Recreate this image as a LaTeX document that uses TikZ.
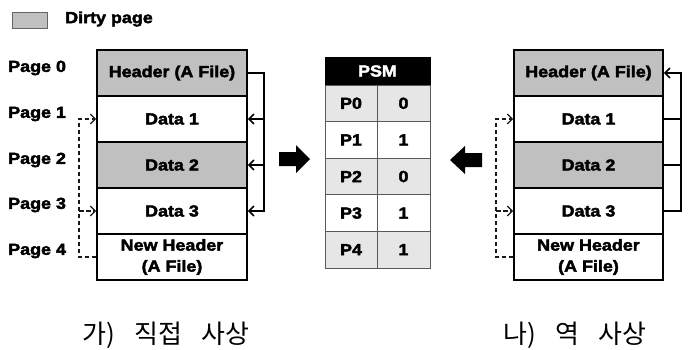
\documentclass[tikz,border=0pt]{standalone}
\usepackage{fontspec}
\setmainfont{Liberation Sans}[FakeStretch=1.12, BoldFeatures={FakeBold=2.5}]
\newfontfamily\krfont{Noto Sans CJK KR}
\usetikzlibrary{arrows.meta}

\definecolor{dirtygray}{RGB}{192,192,192}
\definecolor{psmgray}{RGB}{230,230,230}

\tikzset{
  lbl/.style={font=\bfseries\fontsize{16}{21}\selectfont, inner sep=0pt},
  cell/.style={draw=black, line width=1.6pt, minimum width=150pt, minimum height=46pt,
               inner sep=0pt, align=center, font=\bfseries\fontsize{16}{21}\selectfont},
  dirty/.style={fill=dirtygray},
  psmcell/.style={draw=black!65, line width=0.8pt, minimum height=36.6pt, inner sep=0pt,
                  font=\bfseries\fontsize{16}{18}\selectfont},
  conn/.style={line width=1.6pt, -{Straight Barb[length=5pt,width=10pt,line width=1.6pt]}},
  rail/.style={line width=1.6pt},
  dconn/.style={line width=1.3pt, black!90, dash pattern=on 4.5pt off 2.5pt,
                -{Straight Barb[length=5pt,width=10pt,line width=1.3pt]}},
  caption/.style={font=\krfont\fontsize{26}{28}\selectfont, inner sep=0pt}
}

\begin{document}
\begin{tikzpicture}[x=1pt, y=-1pt]
\useasboundingbox (0,0) rectangle (689,349);

% legend
\node[draw=black!60, line width=1pt, fill=dirtygray, minimum width=35pt, minimum height=16pt, inner sep=0pt]
  (legbox) at (29.5,20) {};
\node[lbl, anchor=west] (legtxt) at (65,19) {Dirty page};

% page labels
\foreach \i/\y in {0/68,1/114,2/160,3/205,4/251}
  \node[lbl, anchor=west] (pg\i) at (8,\y) {Page \i};

% left file layout
\node[cell, dirty] (L0) at (172,73)  {Header (A File)};
\node[cell]        (L1) at (172,119) {Data 1};
\node[cell, dirty] (L2) at (172,165) {Data 2};
\node[cell]        (L3) at (172,211) {Data 3};
\node[cell]        (L4) at (172,257) {New Header\\(A File)};

% header pointers (direct mapping)
\coordinate (lrail) at (264,211);
\draw[conn] (L0.east) -| (lrail) -- (L3.east);
\draw[conn] (L1.east -| lrail) -- (L1.east);
\draw[conn] (L2.east -| lrail) -- (L2.east);

% new header pointers
\coordinate (ldash) at (79,119);
\draw[dconn] (L4.west) -| (ldash) -- (L1.west);
\draw[dconn] (L3.west -| ldash) -- (L3.west);

% PSM table
\node[fill=black, draw=black, line width=0.8pt, minimum width=105pt, minimum height=28pt, inner sep=0pt,
      text=white, font=\bfseries\fontsize{16}{18}\selectfont] (psm) at (377.5,71) {PSM};
\foreach \i/\v/\f in {0/0/psmgray,1/1/white,2/0/psmgray,3/1/white,4/1/psmgray}{
  \node[psmcell, fill=\f, minimum width=52pt] (pk\i) at (351,{85+36.6*(\i+0.5)}) {P\i};
  \node[psmcell, fill=\f, minimum width=53pt] (pv\i) at (403.5,{85+36.6*(\i+0.5)}) {\v};
}

% block arrows
\fill (279,152) -- (296,152) -- (296,145) -- (310,159) -- (296,173) -- (296,166) -- (279,166) -- cycle;
\fill (482,153) -- (465,153) -- (465,146) -- (450,160) -- (465,174) -- (465,167) -- (482,167) -- cycle;

% right file layout
\node[cell, dirty, minimum width=149pt] (R0) at (588.5,73)  {Header (A File)};
\node[cell, minimum width=149pt]        (R1) at (588.5,119) {Data 1};
\node[cell, dirty, minimum width=149pt] (R2) at (588.5,165) {Data 2};
\node[cell, minimum width=149pt]        (R3) at (588.5,211) {Data 3};
\node[cell, minimum width=149pt]        (R4) at (588.5,257) {New Header\\(A File)};

% data pages pointing back to the header (inverse mapping)
\coordinate (rrail) at (681,73);
\draw[conn] (R3.east) -| (rrail) -- (R0.east);
\draw[rail] (R1.east) -- (R1.east -| rrail);
\draw[rail] (R2.east) -- (R2.east -| rrail);

\coordinate (rdash) at (496,119);
\draw[dconn] (R4.west) -| (rdash) -- (R1.west);
\draw[dconn] (R3.west -| rdash) -- (R3.west);

% captions
\node[caption] (capL) at (166,335) {가)\hspace{0.75em}직접\hspace{0.75em}사상};
\node[caption] (capR) at (575,335) {나)\hspace{0.75em}역\hspace{0.75em}사상};
\end{tikzpicture}
\end{document}
